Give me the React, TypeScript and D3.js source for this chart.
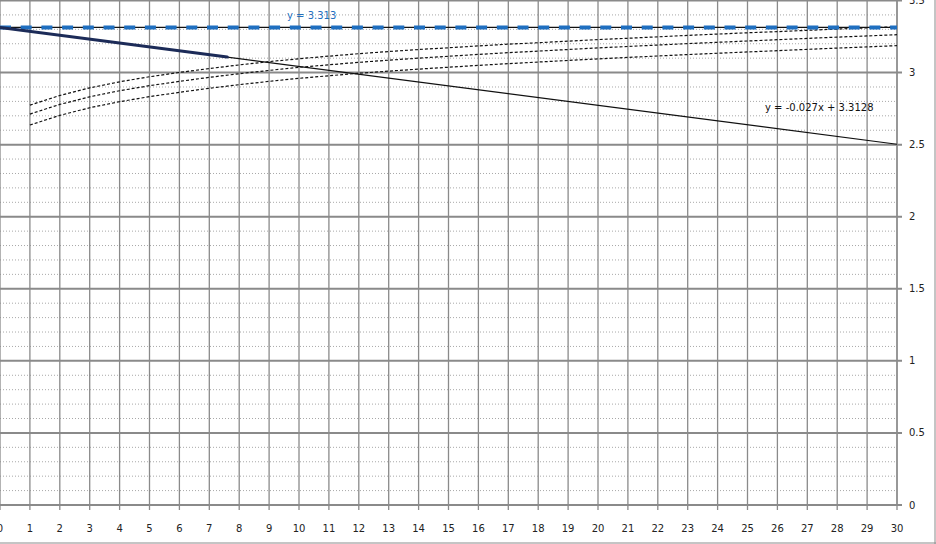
import React from "react";
import * as d3 from "d3";

// ---- data ----
const xTicks = d3.range(0, 31);
const yTicks = [0, 0.5, 1, 1.5, 2, 2.5, 3, 3.5];
const yMinor = d3.range(1, 35).map((i) => i / 10).filter((v) => Math.abs(v * 2 - Math.round(v * 2)) > 1e-6);

const curveX = d3.range(1, 31);
const upperCurve = [2.774, 2.841, 2.894, 2.936, 2.971, 3.001, 3.028, 3.053, 3.076, 3.096, 3.114, 3.131, 3.146, 3.16, 3.172, 3.185, 3.197, 3.207, 3.218, 3.229, 3.238, 3.248, 3.258, 3.267, 3.276, 3.284, 3.293, 3.302, 3.31, 3.318];
const middleCurve = [2.712, 2.779, 2.832, 2.874, 2.909, 2.939, 2.967, 2.992, 3.015, 3.036, 3.054, 3.071, 3.086, 3.1, 3.113, 3.126, 3.138, 3.149, 3.16, 3.171, 3.181, 3.191, 3.201, 3.21, 3.219, 3.228, 3.237, 3.246, 3.254, 3.263];
const lowerCurve = [2.636, 2.703, 2.756, 2.798, 2.833, 2.863, 2.891, 2.916, 2.939, 2.96, 2.978, 2.995, 3.01, 3.024, 3.037, 3.05, 3.062, 3.073, 3.084, 3.095, 3.105, 3.115, 3.125, 3.134, 3.143, 3.152, 3.161, 3.17, 3.178, 3.187];

const dataX = [0, 7.6];
const dataY = [3.313, 3.108];
const trendX = [0, 30];
const trendY = [3.3128, 2.5028];
const constX = [0, 30];
const constY = [3.313, 3.313];

const constLabel = "y = 3.313";
const trendLabel = "y = -0.027x + 3.3128";

export default function App() {
  const W = 936;
  const H = 544;
  const x = d3.scaleLinear().domain([0, 30]).range([0, 897]);
  const y = d3.scaleLinear().domain([0, 3.5]).range([505, 0.5]);
  const line = (xs: number[], ys: number[]) =>
    d3.line<number>().x((_, i) => x(xs[i])).y((d) => y(d))(ys) || "";

  const font = "'DejaVu Sans', Verdana, sans-serif";
  const gridCol = "#8a8a8a";

  return (
    <svg
      width={W}
      height={H}
      style={{ position: "absolute", left: 0, top: 0, background: "#fff" }}
      fontFamily={font}
    >
      <rect x={0} y={0} width={W} height={H} fill="#fff" />
      {/* minor dotted horizontal grid */}
      {yMinor.map((v) => (
        <line key={"m" + v} x1={x(0)} x2={x(30)} y1={y(v)} y2={y(v)} stroke="#a8a8a8" strokeWidth={1} strokeDasharray="1,2" />
      ))}
      {/* vertical grid */}
      {xTicks.map((t) => (
        <line key={"v" + t} x1={x(t)} x2={x(t)} y1={y(3.5)} y2={y(0) + 5} stroke={gridCol} strokeWidth={1.3} />
      ))}
      {/* horizontal major grid */}
      {yTicks.map((t) => (
        <line key={"h" + t} x1={x(0)} x2={x(30) + 5} y1={y(t)} y2={y(t)} stroke={gridCol} strokeWidth={2} />
      ))}
      {/* right axis */}
      <line x1={x(30)} x2={x(30)} y1={0} y2={y(0)} stroke={gridCol} strokeWidth={1.3} />

      {/* dotted curves */}
      {[upperCurve, middleCurve, lowerCurve].map((c, i) => (
        <path key={"c" + i} d={line(curveX, c)} fill="none" stroke="#111" strokeWidth={1.2} strokeDasharray="3,2" />
      ))}

      {/* trend line */}
      <path d={line(trendX, trendY)} fill="none" stroke="#111" strokeWidth={1.2} />
      {/* constant line (black under blue dashes) */}
      <path d={line(constX, constY)} fill="none" stroke="#111" strokeWidth={1.2} />
      <path d={line(constX, constY)} fill="none" stroke="#1f6fc0" strokeWidth={4} strokeDasharray="11,9.7" />
      {/* data series */}
      <path d={line(dataX, dataY)} fill="none" stroke="#1c2b58" strokeWidth={3} strokeLinecap="round" />

      {/* labels */}
      <text x={287} y={15} dy="0.35em" fontSize={10} fill="#1f6fc0">{constLabel}</text>
      <text x={765} y={107} dy="0.35em" fontSize={10} fill="#111">{trendLabel}</text>

      {/* x tick labels */}
      {xTicks.map((t) => (
        <text key={"xl" + t} x={x(t)} y={528} dy="0.35em" textAnchor="middle" fontSize={10} fill="#222">
          {t}
        </text>
      ))}
      {/* y tick labels */}
      {yTicks.map((t) => (
        <text key={"yl" + t} x={909} y={y(t)} dy="0.35em" fontSize={10} fill="#222">
          {t}
        </text>
      ))}

      {/* outer frame */}
      <line x1={0} x2={W} y1={543} y2={543} stroke="#8a8a8a" strokeWidth={1} />
      <line x1={935} x2={935} y1={0} y2={544} stroke="#8a8a8a" strokeWidth={1} />
    </svg>
  );
}
